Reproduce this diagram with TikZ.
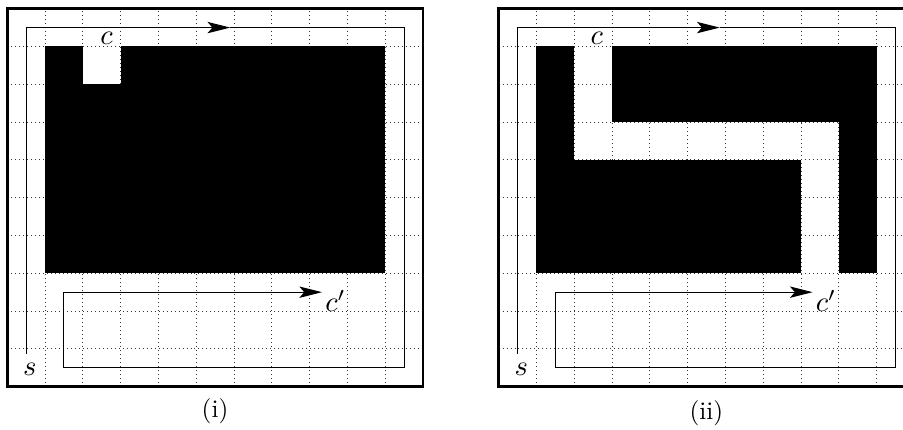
\documentclass[tikz,border=0pt]{standalone}
\usepackage{amsmath}
\usepackage{tikz}
\usetikzlibrary{arrows.meta}
\definecolor{ink}     {HTML}{000000}
\definecolor{inkgray} {HTML}{333333}

\begin{document}
\begin{tikzpicture}[x=1cm,y=1cm,
    dotgrid/.style={inkgray,line width=0.6pt,dash pattern=on 0.6pt off 2.4pt},
    wall/.style={fill=ink},
    route/.style={ink,line width=0.8pt},
    tip/.style={-{Stealth[length=0.6cm,width=0.3cm,inset=0.13cm]}},
    frame/.style={ink,line width=2.2pt},
    lbl/.style={inner sep=0pt,scale=2.15},
    capt/.style={scale=1.9}]
  \useasboundingbox (-0.19,-1.12) rectangle (23.70,10.23);
  % panel (i)
  \begin{scope}[shift={(0,0)}]
    \draw[dotgrid,step=1] (0,0) grid (11,10);
    \foreach \xa/\ya/\xb/\yb in {1/3/10/8,1/3/2/9,3/3/10/9} {
      \fill[wall] (\xa,\ya) rectangle (\xb,\yb);
    }
    \node[lbl,anchor=base] (sA) at (0.6,0.29) {$s$};
    \node[lbl,anchor=base] (cA) at (2.63,9.04) {$c$};
    \node[lbl,anchor=base west] (cpA) at (8.4,1.98) {$c'$};
    \coordinate (tlA) at (0.5,9.5);
    \coordinate (tmA) at (5.9,9.5);
    \coordinate (trA) at (10.5,9.5);
    \coordinate (brA) at (10.5,0.5);
    \coordinate (blA) at (1.5,0.5);
    \coordinate (mlA) at (1.5,2.5);
    \coordinate (meA) at (8.33,2.5);
    \draw[route,tip] ([yshift=6.5pt]sA.north -| tlA) -- (tlA) -- (tmA);
    \draw[route,tip] (tmA) -- (trA) -- (brA) -- (blA) -- (mlA) -- (meA);
    \draw[frame] (0,0) rectangle (11,10);
    \node[capt] (capA) at (5.5,-0.66) {(i)};
  \end{scope}
  % panel (ii)
  \begin{scope}[shift={(13,0)}]
    \draw[dotgrid,step=1] (0,0) grid (11,10);
    \foreach \xa/\ya/\xb/\yb in {1/3/2/9,1/3/8/6,3/7/10/9,9/3/10/9} {
      \fill[wall] (\xa,\ya) rectangle (\xb,\yb);
    }
    \node[lbl,anchor=base] (sB) at (0.6,0.29) {$s$};
    \node[lbl,anchor=base] (cB) at (2.6,9.04) {$c$};
    \node[lbl,anchor=base west] (cpB) at (8.38,1.98) {$c'$};
    \coordinate (tlB) at (0.5,9.5);
    \coordinate (tmB) at (5.85,9.5);
    \coordinate (trB) at (10.5,9.5);
    \coordinate (brB) at (10.5,0.5);
    \coordinate (blB) at (1.5,0.5);
    \coordinate (mlB) at (1.5,2.5);
    \coordinate (meB) at (8.31,2.5);
    \draw[route,tip] ([yshift=6.5pt]sB.north -| tlB) -- (tlB) -- (tmB);
    \draw[route,tip] (tmB) -- (trB) -- (brB) -- (blB) -- (mlB) -- (meB);
    \draw[frame] (0,0) rectangle (11,10);
    \node[capt] (capB) at (5.5,-0.7) {(ii)};
  \end{scope}
\end{tikzpicture}
\end{document}
